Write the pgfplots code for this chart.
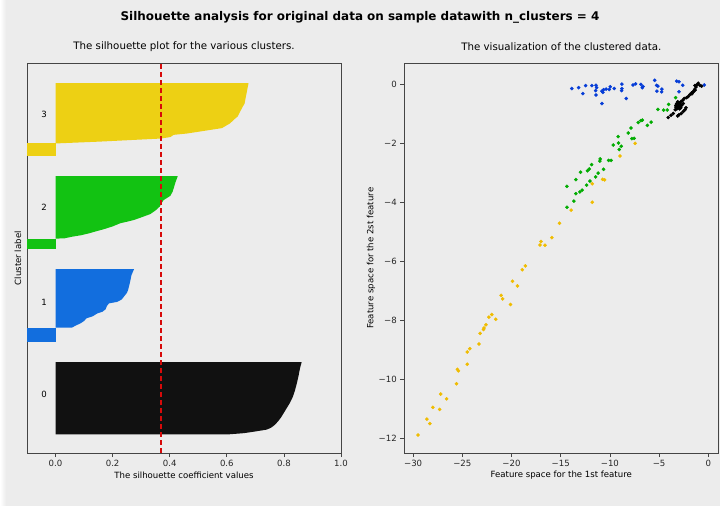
\documentclass[border=0pt]{standalone}
\usepackage{fontspec}
\setmainfont{DejaVu Sans}
\usepackage{pgfplots}
\pgfplotsset{compat=1.18}
\definecolor{bg}{HTML}{ECECEC}
\definecolor{axgray}{HTML}{454545}
\definecolor{silY}{RGB}{237,208,20}
\definecolor{silG}{RGB}{18,194,18}
\definecolor{silB}{RGB}{18,110,222}
\definecolor{silK}{RGB}{17,17,17}
\definecolor{scY}{RGB}{240,188,0}
\definecolor{scG}{RGB}{0,172,0}
\definecolor{scB}{RGB}{5,60,215}
\definecolor{scK}{RGB}{0,0,0}
\definecolor{avgred}{RGB}{215,10,10}
\pgfplotsset{
  common/.style={
    scale only axis, width=314bp, height=389.5bp,
    axis background/.style={fill=bg},
    tick align=outside, major tick length=4bp,
    axis line style={draw=axgray, line width=0.8bp},
    tick style={draw=axgray, line width=0.8bp},
    xtick pos=bottom, ytick pos=left,
    ticklabel style={font=\fontsize{8.6}{10}\selectfont, text=black!85},
    title style={font=\fontsize{10.3}{12}\selectfont, at={(axis description cs:0.5,1.028)}, anchor=center},
    xlabel style={font=\fontsize{8.6}{10}\selectfont, at={(axis description cs:0.5,-0.0565)}, anchor=center},
    ylabel style={font=\fontsize{8.6}{10}\selectfont, anchor=center},
  },
  scat/.style={only marks, mark=*, mark size=1.6bp, color=#1, mark options={solid, draw=#1, fill=#1, line width=0.4bp}}
}
\begin{document}
\begin{tikzpicture}
\fill[bg] (0bp,0bp) rectangle (720bp,506bp);
\shade[left color=white, right color=bg] (0bp,0bp) rectangle (6bp,506bp);
\node[font=\fontsize{12}{14}\bfseries\selectfont] at (360bp,489bp) {Silhouette analysis for original data on sample datawith n\_clusters = 4};

% ---------------- Left: silhouette plot ----------------
\begin{axis}[common, at={(27bp,53bp)}, anchor=south west,
  xmin=-0.1, xmax=1, ymin=0, ymax=208,
  ytick=\empty,
  xtick={0,0.2,0.4,0.6,0.8,1.0},
  xticklabels={0.0,0.2,0.4,0.6,0.8,1.0},
  title={The silhouette plot for the various clusters.},
  xlabel={The silhouette coefficient values},
  ylabel={Cluster label},
  ylabel style={at={(axis description cs:-0.0287,0.5)}},
]
% cluster 0
\addplot[fill=silK, draw=none] coordinates {
(0,10) (0.61,10) (0.66,10.6) (0.70,11.5) (0.74,12.5) (0.755,13.5) (0.768,15) (0.78,17) (0.79,19) (0.80,21.5) (0.81,24) (0.82,26.5) (0.83,29.5) (0.838,33) (0.845,37) (0.851,41) (0.856,45) (0.862,48.5) (0,48.5)} -- cycle;
% cluster 1
\addplot[fill=silB, draw=none] coordinates {(-0.2,59.3) (0,59.3) (0,67) (-0.2,67)} -- cycle;
\addplot[fill=silB, draw=none] coordinates {
(0,67) (0.058,67) (0.07,68) (0.087,69.2) (0.10,70.5) (0.108,71.9) (0.13,73) (0.146,74.5) (0.165,75.5) (0.175,76.7) (0.18,78.5) (0.187,79.9) (0.216,80.7) (0.232,82) (0.239,83.4) (0.25,85.5) (0.254,87) (0.26,90.6) (0.266,95) (0.275,98.2) (0,98.2)} -- cycle;
% cluster 2
\addplot[fill=silG, draw=none] coordinates {(-0.2,109.2) (0,109.2) (0,114.5) (-0.2,114.5)} -- cycle;
\addplot[fill=silG, draw=none] coordinates {
(0,114.5) (0.03,114.6) (0.058,115.5) (0.09,116.3) (0.117,117.3) (0.14,118.3) (0.169,119.5) (0.2,121) (0.227,122.7) (0.25,123.5) (0.274,124.4) (0.30,125.8) (0.332,127.6) (0.35,129.5) (0.365,131.6) (0.372,133.5) (0.379,135.1) (0.402,137.3) (0.41,139.5) (0.414,141.4) (0.42,144.5) (0.428,147.8) (0,147.8)} -- cycle;
% cluster 3
\addplot[fill=silY, draw=none] coordinates {(-0.2,158.8) (0,158.8) (0,165.3) (-0.2,165.3)} -- cycle;
\addplot[fill=silY, draw=none] coordinates {
(0,165.3) (0.157,166.3) (0.274,167.2) (0.367,167.9) (0.402,168.7) (0.414,169.9) (0.46,170.6) (0.507,171.7) (0.583,173.5) (0.612,176.1) (0.624,177.9) (0.638,179.7) (0.647,182.4) (0.656,185) (0.662,186.5) (0.667,190.4) (0.676,197.5) (0,197.5)} -- cycle;
% average silhouette
\addplot[draw=avgred, line width=1.3bp, dash pattern=on 5bp off 3bp] coordinates {(0.3695,0) (0.3695,208)};
\node[anchor=west, font=\fontsize{8.6}{10}\selectfont, inner sep=0pt] at (axis cs:-0.05,31.2) {0};
\node[anchor=west, font=\fontsize{8.6}{10}\selectfont, inner sep=0pt] at (axis cs:-0.05,80.7) {1};
\node[anchor=west, font=\fontsize{8.6}{10}\selectfont, inner sep=0pt] at (axis cs:-0.05,131) {2};
\node[anchor=west, font=\fontsize{8.6}{10}\selectfont, inner sep=0pt] at (axis cs:-0.05,180.6) {3};
\end{axis}

% ---------------- Right: scatter ----------------
\begin{axis}[common, at={(404.3bp,53bp)}, anchor=south west,
  xmin=-30.9, xmax=1.02, ymin=-12.5, ymax=0.72,
  xtick={-30,-25,-20,-15,-10,-5,0},
  xticklabels={−30,−25,−20,−15,−10,−5,0},
  ytick={-12,-10,-8,-6,-4,-2,0},
  yticklabels={−12,−10,−8,−6,−4,−2,0},
  title={The visualization of the clustered data.},
  xlabel={Feature space for the 1st feature},
  ylabel={Feature space for the 2st feature},
  ylabel style={at={(axis description cs:-0.106,0.5)}},
]
% cluster 3 (yellow)
\addplot[scat=scY] coordinates {
(-18.6,-6.15) (-18.9,-6.28) (-19.9,-6.67) (-19.4,-6.83) (-21.06,-7.15) (-20.9,-7.27) (-20.1,-7.46) (-22.0,-7.80) (-22.3,-7.89) (-21.6,-7.96) (-22.6,-8.15) (-22.8,-8.26) (-22.85,-8.31) (-23.2,-8.44) (-23.3,-8.80) (-24.24,-8.96) (-24.5,-9.07) (-24.5,-9.49) (-25.5,-9.66) (-25.4,-9.71) (-25.6,-10.15) (-27.2,-10.50) (-26.6,-10.66) (-28.0,-10.95) (-27.3,-11.02) (-28.6,-11.35) (-28.3,-11.50) (-29.5,-11.89)
(-11.8,-3.36) (-10.74,-3.21) (-10.54,-3.23) (-11.8,-3.99) (-13.94,-4.26) (-15.12,-4.70) (-15.9,-5.19) (-17.0,-5.32) (-17.1,-5.44) (-16.6,-5.45) (-7.43,-1.99) (-8.98,-2.42)};
% cluster 2 (green)
\addplot[scat=scG] coordinates {
(-6.7,-1.2) (-6.85,-1.22) (-7.12,-1.28) (-5.8,-1.27) (-6.2,-1.38) (-7.86,-1.47) (-8.14,-1.64) (-7.76,-1.83) (-7.53,-1.82) (-9.16,-1.76) (-9.12,-1.98) (-9.66,-2.05) (-8.85,-2.09) (-9.05,-2.20) (-10.99,-2.52) (-11.02,-2.59) (-10.13,-2.57) (-9.87,-2.57) (-11.86,-2.71) (-12.1,-2.86) (-12.27,-2.92) (-10.64,-2.87) (-12.98,-2.97) (-11.19,-3.0) (-11.45,-3.13) (-13.46,-3.22) (-12.03,-3.27) (-12.37,-3.41) (-14.37,-3.45) (-12.82,-3.58) (-13.05,-3.64) (-13.46,-3.70) (-13.66,-3.95) (-14.37,-4.16) (-3.32,-0.44) (-4.03,-0.67) (-5.12,-0.84) (-4.54,-0.86) (-4.17,-0.86)};
% cluster 1 (blue)
\addplot[scat=scB] coordinates {
(-13.87,-0.13) (-13.18,-0.10) (-12.75,-0.30) (-12.47,-0.03) (-11.83,-0.03) (-11.42,-0.02) (-11.35,-0.10) (-11.45,-0.20) (-11.42,-0.35) (-10.81,-0.22) (-10.64,-0.17) (-10.71,-0.26) (-10.38,-0.15) (-9.97,-0.07) (-10.07,-0.16) (-9.56,-0.13) (-8.78,0.02) (-8.78,-0.13) (-8.81,-0.20) (-10.81,-0.64) (-8.34,-0.47) (-7.66,-0.01) (-7.39,0.03) (-6.85,0.01) (-6.71,-0.10) (-6.64,-0.06) (-5.45,0.15) (-5.25,-0.02) (-5.12,-0.05) (-5.22,-0.22) (-4.71,-0.15) (-4.74,-0.24) (-3.21,0.12) (-2.98,0.10) (-2.6,-0.02) (-2.98,-0.24) (-0.41,-0.01)};
% cluster 0 (black)
\addplot[scat=scK] coordinates {
(-4.07,-1.11) (-3.79,-1.04) (-3.56,-0.98) (-3.29,-0.76) (-3.11,-0.67) (-2.95,-0.62) (-2.78,-0.57) (-3.05,-0.78) (-2.88,-0.72) (-2.71,-0.70) (-2.54,-0.64) (-2.6,-0.53) (-2.44,-0.47) (-2.2,-0.44) (-2.03,-0.40) (-1.86,-0.33) (-1.69,-0.28) (-1.53,-0.25) (-1.35,-0.19)
(-3.11,-1.06) (-2.98,-1.02) (-2.75,-0.98) (-2.54,-0.91) (-2.37,-0.85) (-2.27,-0.78)
(-1.66,-0.31) (-1.53,-0.23) (-1.38,-0.16) (-1.25,-0.08) (-1.12,0.01) (-1.35,-0.03) (-0.84,-0.03) (-0.67,-0.05) (-1.02,0.05)
(-3.21,-0.64) (-3.15,-0.72) (-2.95,-0.75) (-3.0,-0.68) (-2.85,-0.66) (-3.3,-0.70) (-3.2,-0.82) (-3.1,-0.58) (-2.9,-0.82) (-3.35,-0.85) (-2.8,-0.78)};
\end{axis}
\end{tikzpicture}
\end{document}
